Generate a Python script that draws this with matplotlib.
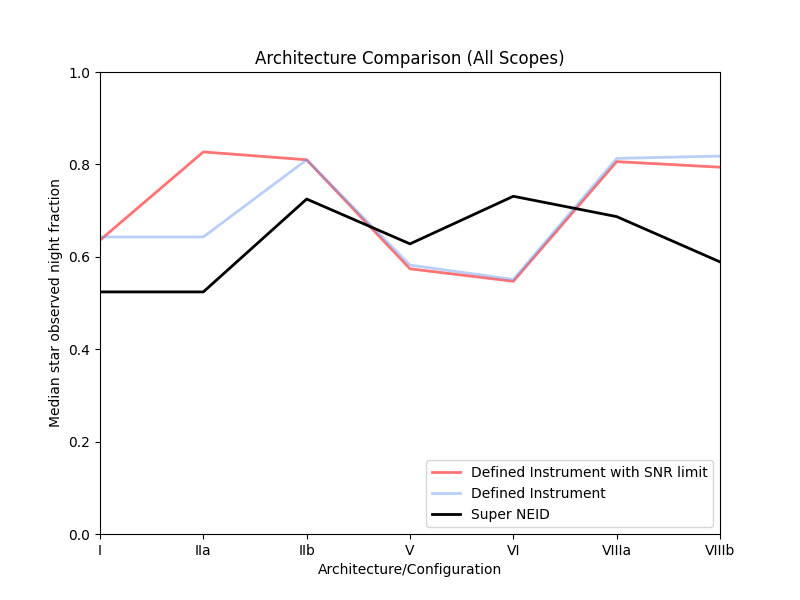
import matplotlib
matplotlib.use("Agg")
import matplotlib.pyplot as plt

configs = ["I", "IIa", "IIb", "V", "VI", "VIIIa", "VIIIb"]
snr_limit = [0.636, 0.827, 0.810, 0.574, 0.547, 0.806, 0.794]
defined = [0.643, 0.643, 0.810, 0.582, 0.551, 0.813, 0.818]
super_neid = [0.524, 0.524, 0.725, 0.628, 0.731, 0.687, 0.589]

fig, ax = plt.subplots(figsize=(8, 6), dpi=100)
x = range(len(configs))
ax.plot(x, snr_limit, color="red", alpha=0.55, lw=2, label="Defined Instrument with SNR limit")
ax.plot(x, defined, color="cornflowerblue", alpha=0.45, lw=2, label="Defined Instrument")
ax.plot(x, super_neid, color="black", lw=2, label="Super NEID")

ax.set_xticks(list(x))
ax.set_xticklabels(configs)
ax.set_xlim(0, len(configs) - 1)
ax.set_ylim(0, 1)
ax.set_xlabel("Architecture/Configuration")
ax.set_ylabel("Median star observed night fraction")
ax.set_title("Architecture Comparison (All Scopes)")
ax.legend(loc="lower right")

fig.savefig("out.png")
